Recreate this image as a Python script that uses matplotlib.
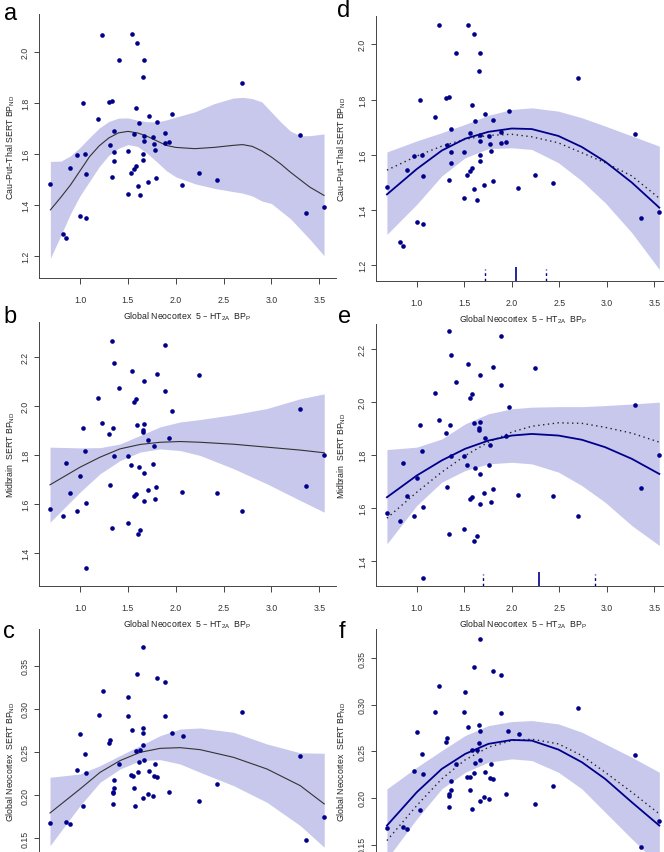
import matplotlib
matplotlib.use("Agg")
import matplotlib.pyplot as plt

plt.rcParams['font.family'] = ['Liberation Sans', 'DejaVu Sans']

# scatter data, one set per row (both columns show the same points)
xa = [0.686, 0.819, 0.85, 0.895, 0.969, 1.0, 1.031, 1.052, 1.063, 1.063,
      1.192, 1.233, 1.303, 1.314, 1.338, 1.338, 1.356, 1.356, 1.356, 1.408,
      1.499, 1.502, 1.53, 1.54, 1.561, 1.565, 1.582, 1.586, 1.6, 1.603,
      1.614, 1.631, 1.656, 1.662, 1.662, 1.666, 1.666, 1.666, 1.708, 1.718,
      1.764, 1.771, 1.781, 1.798, 1.805, 1.889, 1.889, 1.934, 1.966, 2.07,
      2.245, 2.433, 2.695, 3.294, 3.364, 3.552]
ya = [1.482, 1.285, 1.27, 1.545, 1.595, 1.356, 1.799, 1.599, 1.521, 1.348,
      1.736, 2.069, 1.804, 1.636, 1.81, 1.508, 1.692, 1.608, 1.571, 1.97,
      1.443, 1.611, 1.525, 2.072, 1.54, 1.677, 1.552, 1.782, 2.037, 1.475,
      1.722, 1.437, 1.902, 1.599, 1.578, 1.97, 1.671, 1.651, 1.489, 1.748,
      1.667, 1.639, 1.614, 1.505, 1.727, 1.683, 1.643, 1.646, 1.758, 1.478,
      1.525, 1.497, 1.879, 1.676, 1.369, 1.393]

xb = [0.686, 0.819, 0.85, 0.895, 0.969, 1.0, 1.031, 1.052, 1.063, 1.063,
      1.192, 1.233, 1.303, 1.314, 1.338, 1.338, 1.345, 1.356, 1.356, 1.411,
      1.499, 1.502, 1.53, 1.54, 1.565, 1.565, 1.582, 1.582, 1.6, 1.603,
      1.614, 1.631, 1.659, 1.659, 1.666, 1.666, 1.666, 1.666, 1.708, 1.715,
      1.764, 1.771, 1.781, 1.798, 1.805, 1.886, 1.886, 1.934, 1.966, 2.07,
      2.245, 2.433, 2.695, 3.294, 3.364, 3.552]
yb = [1.579, 1.549, 1.769, 1.645, 1.570, 1.713, 1.912, 1.816, 1.604, 1.337,
      2.035, 1.931, 1.884, 1.679, 2.267, 1.503, 1.911, 2.178, 1.795, 2.075,
      1.795, 1.521, 1.76, 2.144, 2.016, 1.634, 2.031, 1.64, 1.922, 1.475,
      1.75, 1.495, 1.903, 1.892, 2.102, 1.925, 1.726, 1.613, 1.655, 1.862,
      1.762, 1.837, 1.621, 1.67, 2.133, 2.25, 2.062, 1.871, 1.98, 1.648,
      2.128, 1.645, 1.569, 1.99, 1.675, 1.8]

xc = [0.686, 0.85, 0.895, 0.969, 1.0, 1.031, 1.052, 1.063, 1.195, 1.237,
      1.303, 1.314, 1.342, 1.342, 1.342, 1.356, 1.356, 1.411, 1.499, 1.506,
      1.53, 1.54, 1.558, 1.565, 1.579, 1.582, 1.6, 1.603, 1.614, 1.631,
      1.655, 1.659, 1.662, 1.662, 1.662, 1.666, 1.708, 1.718, 1.764, 1.771,
      1.781, 1.802, 1.805, 1.886, 1.886, 1.934, 1.962, 2.074, 2.245, 2.433,
      2.695, 3.294, 3.364, 3.552]
yc = [0.1674, 0.1693, 0.1666, 0.2288, 0.2705, 0.1871, 0.2473, 0.2253, 0.2925, 0.3203,
      0.2604, 0.2643, 0.2025, 0.2040, 0.1898, 0.2087, 0.218, 0.2365, 0.2921, 0.3137,
      0.223, 0.2759, 0.2222, 0.2083, 0.1878, 0.2515, 0.3403, 0.2272, 0.238, 0.2519,
      0.2782, 0.2585, 0.3712, 0.272, 0.1963, 0.2403, 0.201, 0.228, 0.1994, 0.2218,
      0.2365, 0.2207, 0.3361, 0.3315, 0.2913, 0.2041, 0.2716, 0.2689, 0.1932, 0.2129,
      0.2967, 0.2458, 0.1477, 0.1751]

# smooth fits (left column) with confidence band
a_cx = [0.69, 0.8, 0.9, 1.0, 1.1, 1.2, 1.3, 1.4, 1.5, 1.6, 1.7, 1.8, 1.9, 2.0,
        2.2, 2.4, 2.6, 2.7, 2.8, 2.9, 3.0, 3.1, 3.2, 3.3, 3.4, 3.55]
a_fit = [1.38, 1.43, 1.478, 1.534, 1.59, 1.632, 1.663, 1.683, 1.689, 1.683, 1.67, 1.652, 1.634, 1.626,
         1.621, 1.626, 1.634, 1.637, 1.63, 1.612, 1.588, 1.56, 1.528, 1.499, 1.47, 1.437]
a_lo = [1.19, 1.28, 1.365, 1.436, 1.493, 1.55, 1.595, 1.622, 1.637, 1.63, 1.603, 1.57, 1.535, 1.51,
        1.483, 1.465, 1.452, 1.446, 1.435, 1.415, 1.405, 1.375, 1.345, 1.305, 1.265, 1.2]
a_hi = [1.571, 1.572, 1.593, 1.626, 1.665, 1.702, 1.728, 1.741, 1.742, 1.733, 1.727, 1.726, 1.734, 1.745,
        1.766, 1.798, 1.82, 1.823, 1.818, 1.805, 1.765, 1.725, 1.69, 1.672, 1.672, 1.679]

bc_cx = [0.686, 1.0, 1.209, 1.418, 1.628, 1.837, 2.046, 2.255, 2.604, 2.953, 3.301, 3.552]
b_fit = [1.678, 1.75, 1.791, 1.825, 1.843, 1.852, 1.855, 1.852, 1.844, 1.832, 1.82, 1.809]
b_lo = [1.525, 1.648, 1.723, 1.777, 1.812, 1.825, 1.818, 1.798, 1.744, 1.682, 1.614, 1.566]
b_hi = [1.832, 1.829, 1.83, 1.845, 1.88, 1.915, 1.935, 1.945, 1.965, 1.99, 2.03, 2.05]

c_fit = [0.1793, 0.2071, 0.2264, 0.24, 0.2496, 0.2542, 0.255, 0.2527, 0.2438, 0.2303, 0.211, 0.1898]
c_lo = [0.1415, 0.1878, 0.2149, 0.2303, 0.24, 0.2411, 0.2361, 0.2264, 0.211, 0.1917, 0.1647, 0.1396]
c_hi = [0.2207, 0.2245, 0.2342, 0.2458, 0.2573, 0.2689, 0.2766, 0.2778, 0.2728, 0.2593, 0.249, 0.2485]

# quadratic fits (right column): solid fit, dotted alternative fit, band
q_cx = [0.686, 1.0, 1.263, 1.509, 1.754, 2.0, 2.21, 2.49, 2.737, 2.982, 3.263, 3.552]
d_fit = [1.456, 1.548, 1.615, 1.658, 1.683, 1.695, 1.693, 1.668, 1.628, 1.575, 1.499, 1.408]
d_dot = [1.544, 1.595, 1.631, 1.656, 1.67, 1.674, 1.665, 1.643, 1.607, 1.571, 1.523, 1.442]
d_lo = [1.311, 1.42, 1.523, 1.589, 1.622, 1.625, 1.619, 1.571, 1.505, 1.426, 1.317, 1.184]
d_hi = [1.61, 1.65, 1.68, 1.71, 1.743, 1.764, 1.77, 1.758, 1.734, 1.704, 1.668, 1.631]

e_fit = [1.64, 1.722, 1.779, 1.823, 1.854, 1.873, 1.879, 1.873, 1.857, 1.829, 1.785, 1.728]
e_dot = [1.561, 1.659, 1.735, 1.797, 1.848, 1.886, 1.908, 1.921, 1.919, 1.904, 1.882, 1.848]
e_lo = [1.464, 1.609, 1.697, 1.741, 1.766, 1.772, 1.766, 1.735, 1.684, 1.621, 1.533, 1.458]
e_hi = [1.82, 1.829, 1.86, 1.917, 1.955, 1.974, 1.98, 1.982, 1.982, 1.986, 1.992, 1.999]

f_fit = [0.1704, 0.2062, 0.2312, 0.2473, 0.2581, 0.2623, 0.2616, 0.252, 0.2384, 0.2205, 0.1954, 0.1704]
f_dot = [0.1543, 0.1919, 0.2205, 0.2409, 0.2545, 0.2616, 0.2631, 0.2581, 0.2455, 0.2276, 0.2062, 0.1829]
f_lo = [0.1346, 0.1776, 0.2098, 0.2276, 0.2384, 0.242, 0.2402, 0.2276, 0.2098, 0.1847, 0.1561, 0.1275]
f_hi = [0.2098, 0.233, 0.2509, 0.267, 0.2777, 0.282, 0.2831, 0.2795, 0.2706, 0.2581, 0.2437, 0.2276]

# peak location and its interval (marks on the x axis)
d_peak = [2.042, 1.721, 2.355]
e_peak = [2.284, 1.692, 2.877]

xlab = "Global Neocortex  5 – HT$_{\\mathregular{2A}}$  BP$_{\\mathregular{P}}$"
ylab_a = "Cau–Put–Thal SERT BP$_{\\mathregular{ND}}$"
ylab_b = "Midbrain  SERT BP$_{\\mathregular{ND}}$"
ylab_c = "Global Neocortex  SERT BP$_{\\mathregular{ND}}$"

W, H = 664, 853
fig = plt.figure(figsize=(W / 100, H / 100), dpi=100)

def rect(l, t, r, b):
    return [l / W, 1 - b / H, (r - l) / W, (b - t) / H]

NAVY = "#00008b"
BAND = "#c8c8ec"

panels = [
    # letter, rect(px), ylim, yticks, x, y, curve x, fit, lo, hi, dotted, peak, ylabel, bottom row
    ("a", rect(39, 15, 336, 279), (1.112, 2.151), [1.2, 1.4, 1.6, 1.8, 2.0],
     xa, ya, a_cx, a_fit, a_lo, a_hi, None, None, ylab_a, False),
    ("b", rect(39, 323, 336, 587), (1.264, 2.344), [1.4, 1.6, 1.8, 2.0, 2.2],
     xb, yb, bc_cx, b_fit, b_lo, b_hi, None, None, ylab_b, False),
    ("c", rect(39, 630, 336, 894), (0.0866, 0.3925), [0.15, 0.20, 0.25, 0.30, 0.35],
     xc, yc, bc_cx, c_fit, c_lo, c_hi, None, None, ylab_c, True),
    ("d", rect(376, 17, 671, 282), (1.142, 2.103), [1.2, 1.4, 1.6, 1.8, 2.0],
     xa, ya, q_cx, d_fit, d_lo, d_hi, d_dot, d_peak, ylab_a, False),
    ("e", rect(376, 325, 671, 587), (1.305, 2.294), [1.4, 1.6, 1.8, 2.0, 2.2],
     xb, yb, q_cx, e_fit, e_lo, e_hi, e_dot, e_peak, ylab_b, False),
    ("f", rect(376, 630, 671, 894), (0.098, 0.3814), [0.15, 0.20, 0.25, 0.30, 0.35],
     xc, yc, q_cx, f_fit, f_lo, f_hi, f_dot, None, ylab_c, True),
]

for letter, r, ylim, yt, x, y, cx, fit, lo, hi, dot, peak, ylab, last in panels:
    ax = fig.add_axes(r)
    ax.fill_between(cx, lo, hi, color=BAND, lw=0, zorder=1)
    if dot is None:
        ax.plot(cx, fit, color="#333333", lw=0.8, zorder=2)
    else:
        ax.plot(cx, dot, color="#222222", lw=1.0, ls=(0, (1, 2.5)), zorder=2)
        ax.plot(cx, fit, color=NAVY, lw=1.3, zorder=3)
    ax.scatter(x, y, s=11, color=NAVY, lw=0, zorder=4)
    if peak is not None:
        ax.vlines(peak[0], 0, 0.054, transform=ax.get_xaxis_transform(),
                  color=NAVY, lw=1.2, zorder=5)
        ax.vlines(peak[1:], 0, 0.045, transform=ax.get_xaxis_transform(),
                  color=NAVY, lw=1.0, ls=(0, (2, 2)), zorder=5)
    ax.set_xlim(0.571, 3.675)
    ax.set_ylim(*ylim)
    ax.set_xticks([1.0, 1.5, 2.0, 2.5, 3.0, 3.5])
    ax.set_yticks(yt)
    ax.set_yticklabels([f"{v:.2f}" if v < 1 else f"{v:.1f}" for v in yt],
                       rotation=90, va="center")
    for s in ["top", "right"]:
        ax.spines[s].set_visible(False)
    for s in ["left", "bottom"]:
        ax.spines[s].set_color("#444444")
        ax.spines[s].set_linewidth(0.7)
    ax.tick_params(width=0.7, color="#444444", labelsize=6.3, labelcolor="#333333")
    ax.tick_params(axis="x", length=4, pad=8)
    ax.tick_params(axis="y", length=3.5, pad=3)
    if last:
        # this row runs past the bottom edge of the picture
        ax.tick_params(axis="x", labelbottom=False)
    else:
        ax.set_xlabel(xlab, fontsize=6.3, color="#222222", labelpad=4)
    ax.set_ylabel(ylab, fontsize=6.3, color="#222222")
    w_px = r[2] * W
    ax.yaxis.set_label_coords(-(22 if letter in "abc" else 28) / w_px, 0.5)
    ax.patch.set_alpha(0)

letters = [("a", 4, 20), ("b", 3, 323), ("c", 3, 638),
           ("d", 337, 17), ("e", 338, 323), ("f", 339, 638)]
for t, px, py in letters:
    fig.text(px / W, 1 - py / H, t, fontsize=17, va="baseline", ha="left")

fig.savefig("out.png", dpi=100)
